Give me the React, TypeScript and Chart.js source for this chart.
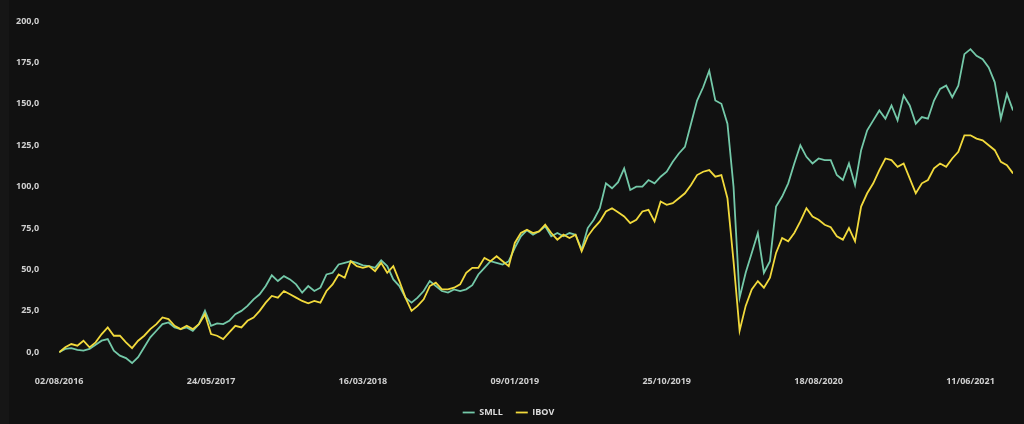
import React, { useEffect, useRef } from "react";
import { Chart, registerables } from "chart.js";

Chart.register(...registerables);

const tickLabels = [
  "02/08/2016",
  "24/05/2017",
  "16/03/2018",
  "09/01/2019",
  "25/10/2019",
  "18/08/2020",
  "11/06/2021",
];

const yTicks = [0, 25, 50, 75, 100, 125, 150, 175, 200];

const smll = [
  0, 2, 2.5, 1.5, 1, 2, 4.5, 7, 8, 1,
  -2, -3.5, -6.5, -3, 3, 9, 13, 17, 18, 15,
  14, 15, 13, 17, 25, 16, 17.5, 17, 19, 23,
  25, 28, 32, 35, 40, 46.5, 43, 46, 44, 41,
  36, 40, 37, 39, 47, 48, 53, 54, 55, 54,
  52.5, 52, 51, 55.5, 52, 44, 40, 33, 30, 33,
  37, 43, 40, 37, 36, 38, 37, 38, 40.5, 47,
  51, 55, 54, 53, 55, 63, 70, 73.7, 71, 73,
  76, 70, 72, 70, 72, 71, 62, 75, 80, 87,
  102, 99, 102.7, 111, 98, 100, 100, 104, 102, 106,
  109, 115, 120, 124, 138, 152, 160, 170, 152, 150,
  138, 100, 33, 48, 60, 72, 48, 55, 88, 94,
  102, 114, 125, 118, 114, 117, 116, 116, 107, 104,
  114, 101, 122, 134, 140, 146, 141, 149, 140, 155,
  149, 138, 142, 141, 152, 159, 161, 154, 161, 180,
  183, 179, 177, 172, 163, 141, 156, 146,
];

const ibov = [
  0, 3, 5, 4, 7, 3, 6, 11, 15, 10,
  10, 6, 2.5, 7, 10, 14, 17, 21, 20, 16,
  14, 16, 14, 17, 23, 11, 10, 8, 12, 16,
  15, 19, 21, 25, 30, 34, 33, 37, 35, 33,
  31, 29.6, 31, 30, 37, 41, 47, 45, 55, 52,
  51, 52, 49, 54, 48, 52, 43, 33, 25, 28,
  32, 40, 42, 38, 38, 39, 41, 48, 51, 51,
  57, 55, 58, 55, 52, 66, 72, 74, 72, 73,
  77, 72, 68, 71, 69, 71, 61, 70, 75, 79,
  85, 87, 84.6, 82, 78, 80, 85, 86, 79, 91,
  89, 90, 93, 96, 101, 107, 109, 110, 106, 107,
  93, 55, 13, 28, 38, 43, 39, 45, 60, 69,
  67, 72, 79, 87, 82, 80, 77, 75.5, 70, 68,
  75, 67, 88, 96, 102, 110, 117, 116, 112, 114,
  105, 96, 102, 104, 111, 114, 112, 117, 121, 131,
  131, 129, 128, 125, 122, 115, 113, 108,
];

const TICK_EVERY = 25;

export default function App() {
  const ref = useRef<HTMLCanvasElement>(null);

  useEffect(() => {
    const canvas = ref.current;
    if (!canvas) return;
    const font = { family: "'Open Sans', 'Noto Sans', sans-serif", size: 9, weight: "bold" as const };
    const chart = new Chart(canvas, {
      type: "line",
      data: {
        datasets: [
          {
            label: "SMLL",
            data: smll.map((y, i) => ({ x: i, y })),
            borderColor: "#74c9a9",
            backgroundColor: "#74c9a9",
            borderWidth: 1.8,
            pointRadius: 0,
            tension: 0,
            order: 2,
          },
          {
            label: "IBOV",
            data: ibov.map((y, i) => ({ x: i, y })),
            borderColor: "#f2da3c",
            backgroundColor: "#f2da3c",
            borderWidth: 1.8,
            pointRadius: 0,
            tension: 0,
            order: 1,
          },
        ],
      },
      options: {
        animation: false,
        responsive: false,
        maintainAspectRatio: false,
        layout: { padding: { left: 4, right: 11, top: 21, bottom: 0 } },
        scales: {
          x: {
            type: "linear",
            min: 0,
            max: smll.length - 1,
            grid: { display: false, drawTicks: false },
            border: { display: false },
            ticks: {
              stepSize: TICK_EVERY,
              includeBounds: false,
              autoSkip: false,
              maxRotation: 0,
              padding: 8.5,
              color: "#cfcfcf",
              font,
              callback: (v) => {
                const n = Number(v);
                if (n % TICK_EVERY !== 0) return "";
                return tickLabels[n / TICK_EVERY] ?? "";
              },
            },
          },
          y: {
            type: "linear",
            min: -9,
            max: 200,
            grid: { display: false },
            border: { display: false },
            afterBuildTicks: (axis) => {
              axis.ticks = yTicks.map((value) => ({ value }));
            },
            ticks: {
              padding: 12,
              color: "#cfcfcf",
              font,
              callback: (v) => Number(v).toFixed(1).replace(".", ","),
            },
          },
        },
        plugins: {
          tooltip: { enabled: false },
          legend: {
            position: "bottom",
            labels: {
              usePointStyle: true,
              pointStyle: "line",
              pointStyleWidth: 12,
              boxHeight: 9,
              padding: 13,
              color: "#dddddd",
              font,
              sort: (a, b) => (a.datasetIndex ?? 0) - (b.datasetIndex ?? 0),
            },
          },
        },
      },
    });
    return () => chart.destroy();
  }, []);

  return (
    <div
      style={{
        position: "fixed",
        left: 0,
        top: 0,
        width: 1024,
        height: 424,
        overflow: "hidden",
        background: "#111111",
      }}
    >
      <div
        style={{
          position: "absolute",
          left: 0,
          top: 0,
          width: 9,
          height: 424,
          background: "#161616",
        }}
      />
      <canvas
        ref={ref}
        width={1024}
        height={427}
        style={{ display: "block", position: "absolute", left: 0, top: 0 }}
      />
    </div>
  );
}
